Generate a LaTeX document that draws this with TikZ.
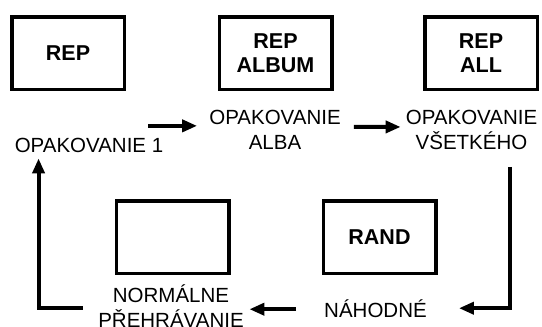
\documentclass[tikz,border=0pt]{standalone}
\usepackage{fontspec}
\setmainfont{Liberation Sans}
\usepackage{tikz}
\usetikzlibrary{arrows.meta}
\usetikzlibrary{calc}
\tikzstyle{ModeBox}=[draw,line width=3.5pt,minimum width=112.5pt,minimum height=72.5pt,
inner sep=0pt,align=center,font=\fontsize{21.5}{24}\selectfont\bfseries]
\tikzstyle{ModeText}=[inner sep=0pt,align=center,font=\fontsize{20.5}{25}\selectfont]
\tikzstyle{FlowArrow}=[line width=4pt,-{Triangle[length=15pt,width=12pt]}]

\begin{document}
\begin{tikzpicture}[x=1pt,y=-1pt]
        \useasboundingbox(0,0)rectangle(542,327);
        \node[ModeBox](rep)at(68,53){REP};
        \node[ModeBox](album)at(275.5,53){REP\\ALBUM};
        \node[ModeBox](all)at(481,53){REP\\ALL};
        \node[ModeBox](normal)at(172.5,237){};
        \node[ModeBox](rand)at(379.5,237){RAND};
        \node[ModeText,anchor=base](op1)at(89,152){OPAKOVANIE 1};
        \node[ModeText,anchor=north](opalba)at(275,110){OPAKOVANIE\\ALBA};
        \node[ModeText,anchor=north](opall)at(471.5,110){OPAKOVANIE\\VŠETKÉHO};
        \node[ModeText,anchor=base](rnd)at(375.5,317){NÁHODNÉ};
        \node[ModeText,anchor=north](norm)at(171,285){NORMÁLNE\\PŘEHRÁVANIE};
        \draw[FlowArrow]($(op1.east |- opalba.west)+(-15,-4)$)--($(opalba.west)+(-12,-4)$);
        \draw[FlowArrow]($(opalba.east)+(13,-3)$)--($(opall.west)+(-5,-3)$);
        \draw[FlowArrow]($(opall.south east)+(-27,17)$)|-($(rnd.east)+(32,0)$);
        \draw[FlowArrow]($(rnd.west)+(-28,1)$)--($(rnd.west -| norm.east)+(5.5,1)$);
        \draw[FlowArrow]($(norm.west |- rnd.west)+(-15.5,0)$)-|($(op1.south west)+(24,6)$);
    \end{tikzpicture}
\end{document}
